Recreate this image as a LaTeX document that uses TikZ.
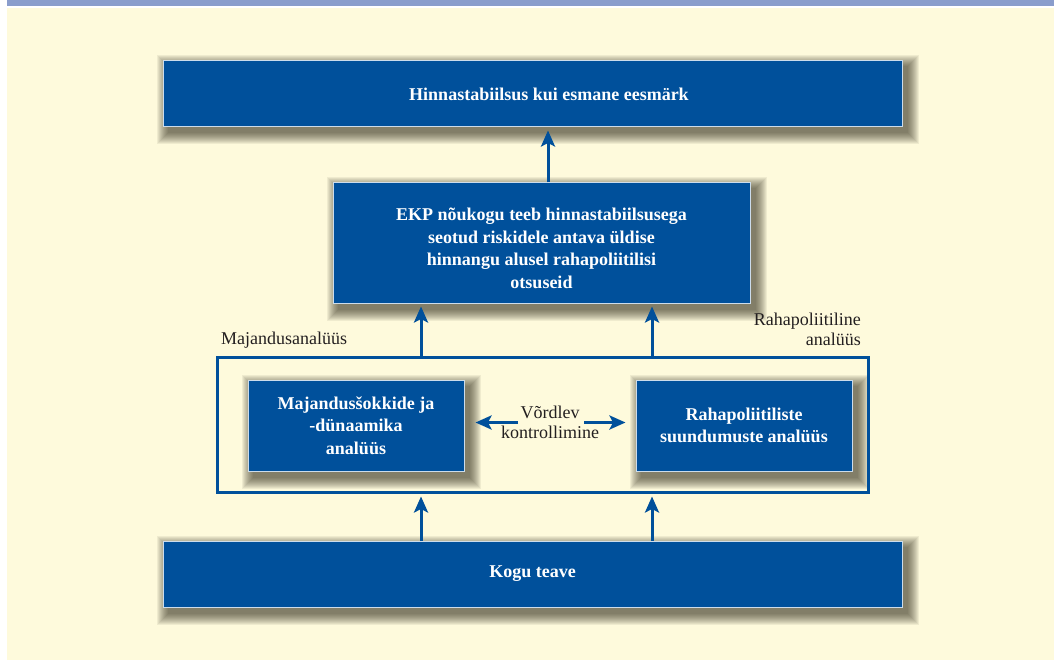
\documentclass[tikz,border=0pt]{standalone}
\usepackage{fontspec}
\setmainfont{Liberation Serif}
\usetikzlibrary{arrows.meta,calc}
\definecolor{ecbblue}{RGB}{0,80,155}
\definecolor{cream}{RGB}{254,250,220}
\definecolor{barblue}{RGB}{138,157,204}
\definecolor{txt}{RGB}{35,31,32}
\definecolor{shadowcol}{RGB}{40,38,20}
\pgfdeclarelayer{shadowlayer}
\pgfdeclarelayer{bglayer}
\pgfsetlayers{bglayer,shadowlayer,main}
\begin{document}
\begin{tikzpicture}[x=1pt,y=-1pt,
  bluebox/.style={rectangle, fill=ecbblue, draw=white!80!ecbblue, line width=1pt,
    text=white, font=\fontsize{18}{22.5}\selectfont\bfseries, align=center, inner sep=0pt},
  shadowstep/.style={fill=shadowcol, opacity=0.065},
  arr/.style={draw=ecbblue, line width=3pt, shorten >=3pt,
    -{Stealth[length=16pt,width=14pt,inset=3.5pt]}},
  lbl/.style={text=txt, font=\fontsize{18}{20}\selectfont, inner sep=0pt}]
\useasboundingbox (0,0) rectangle (1054,660);
\begin{pgfonlayer}{bglayer}
\fill[white] (0,0) rectangle (1054,660);
\fill[cream] (7,8) rectangle (1054,660);
\fill[barblue] (7,0) rectangle (1054,6.5);
\end{pgfonlayer}

\node[bluebox, minimum width=739pt, minimum height=66pt] (goal) at (532.5,94)
  {\hspace*{33pt}Hinnastabiilsus kui esmane eesmärk};
\node[bluebox, minimum width=417pt, minimum height=120pt] (council) at (541.5,243)
  {\rule{0pt}{23pt}EKP nõukogu teeb hinnastabiilsusega\\seotud riskidele antava üldise\\hinnangu alusel rahapoliitilisi\\otsuseid};
\node[draw=ecbblue, line width=3pt, minimum width=651pt, minimum height=135pt, inner sep=0pt] (frame) at (542.5,424.5) {};
\node[bluebox, minimum width=216pt, minimum height=91pt] (econ) at (356,425.5)
  {Majandusšokkide ja\\-dünaamika\\analüüs};
\node[bluebox, minimum width=216pt, minimum height=91pt] (mon) at (744,425.5)
  {Rahapoliitiliste\\suundumuste analüüs};
\node[lbl, align=center] (cmp) at (550,422.5) {Võrdlev\\kontrollimine};
\node[bluebox, minimum width=739pt, minimum height=66pt] (info) at (532.5,574) {Kogu teave};

\node[lbl, anchor=west] (elab) at (221,340) {Majandusanalüüs};
\node[lbl, anchor=east, align=right] (mlab) at (861,329) {Rahapoliitiline\\analüüs};

\begin{pgfonlayer}{shadowlayer}
\foreach \n in {goal,council,econ,mon,info}{
  \foreach \k in {0,...,11}{
    \fill[shadowstep] ($(\n.north west)+(5-\k,6-\k)$) rectangle ($(\n.south east)+(5+\k,6+\k)$);
  }
}
\end{pgfonlayer}

\draw[arr] ([xshift=6.5pt]council.north) -- ([xshift=6.5pt]council.north |- goal.south);
\draw[arr] ([xshift=-121.5pt]frame.north) -- ([xshift=-121.5pt]frame.north |- council.south);
\draw[arr] ([xshift=109.5pt]frame.north) -- ([xshift=109.5pt]frame.north |- council.south);
\draw[arr] ([xshift=-111.5pt]info.north) -- ([xshift=-111.5pt]info.north |- frame.south);
\draw[arr] ([xshift=119.5pt]info.north) -- ([xshift=119.5pt]info.north |- frame.south);
\draw[arr] ($(cmp.center)+(-32,0)$) -- ($(econ.east |- cmp.center)+(8,0)$);
\draw[arr] ($(cmp.center)+(34,0)$) -- ($(mon.west |- cmp.center)+(-7,0)$);
\end{tikzpicture}
\end{document}
